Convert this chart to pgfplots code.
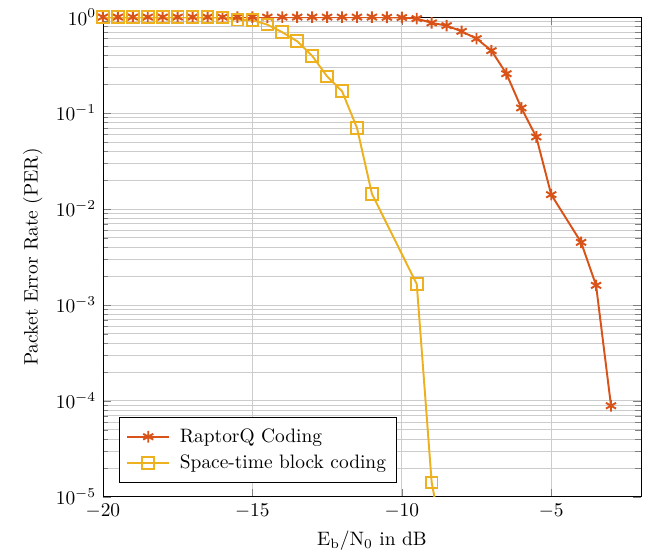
\documentclass[border=0pt]{standalone}
\usepackage{pgfplots}
\pgfplotsset{compat=1.18}

\definecolor{raptor}{rgb}{0.85,0.325,0.098}
\definecolor{stbc}{rgb}{0.929,0.694,0.125}

\begin{document}
\begin{tikzpicture}
\begin{axis}[
    name=ax,
    scale only axis,
    width=277pt,
    height=247pt,
    xmin=-20, xmax=-2,
    ymode=log,
    ymin=1e-5, ymax=1,
    xtick={-20,-15,-10,-5},
    ytick={1e-5,1e-4,1e-3,1e-2,1e-1,1},
    xmajorgrids,
    ymajorgrids,
    yminorgrids,
    grid style={gray!40},
    xlabel={$\mathrm{E_b/N_0}$ in dB},
    ylabel={Packet Error Rate (PER)},
    legend style={at={(0.03,0.03)}, anchor=south west, legend cell align=left,
        draw=black, fill=white, row sep=1pt, column sep=3pt, inner sep=3.5pt},
    legend image code/.code={
        \draw[mark repeat=2, mark phase=2] plot coordinates {(0cm,0cm) (0.38cm,0cm) (0.76cm,0cm)};
    },
]
\addplot[color=raptor, line width=1pt, mark=asterisk, mark size=3pt, mark options={solid}]
coordinates {
    (-20,1) (-19.5,1) (-19,1) (-18.5,1) (-18,1) (-17.5,1) (-17,1) (-16.5,1)
    (-16,1) (-15.5,1) (-15,1) (-14.5,1) (-14,1) (-13.5,1) (-13,1) (-12.5,1)
    (-12,1) (-11.5,1) (-11,1) (-10.5,0.995) (-10,0.99) (-9.5,0.965) (-9,0.87)
    (-8.5,0.815) (-8,0.71) (-7.5,0.597) (-7,0.447) (-6.5,0.257) (-6,0.113)
    (-5.5,0.0563) (-5,0.0141) (-4,0.00449) (-3.5,0.0016) (-3,8.9e-5)
};
\addlegendentry{RaptorQ Coding}
\addplot[color=stbc, line width=1pt, mark=square, mark size=3pt, mark options={solid}]
coordinates {
    (-20,1) (-19.5,1) (-19,1) (-18.5,1) (-18,1) (-17.5,1) (-17,1) (-16.5,1)
    (-16,0.99) (-15.5,0.94) (-15,0.93) (-14.5,0.835) (-14,0.695) (-13.5,0.56)
    (-13,0.395) (-12.5,0.241) (-12,0.169) (-11.5,0.070) (-11,0.0144)
    (-9.5,0.00165) (-9,1.41e-5) (-8.5,2.1e-6)
};
\addlegendentry{Space-time block coding}
\end{axis}
\path ([shift={(-53pt,-31.4pt)}]ax.south west) rectangle ([shift={(5.2pt,8.8pt)}]ax.north east);
\end{tikzpicture}
\end{document}
